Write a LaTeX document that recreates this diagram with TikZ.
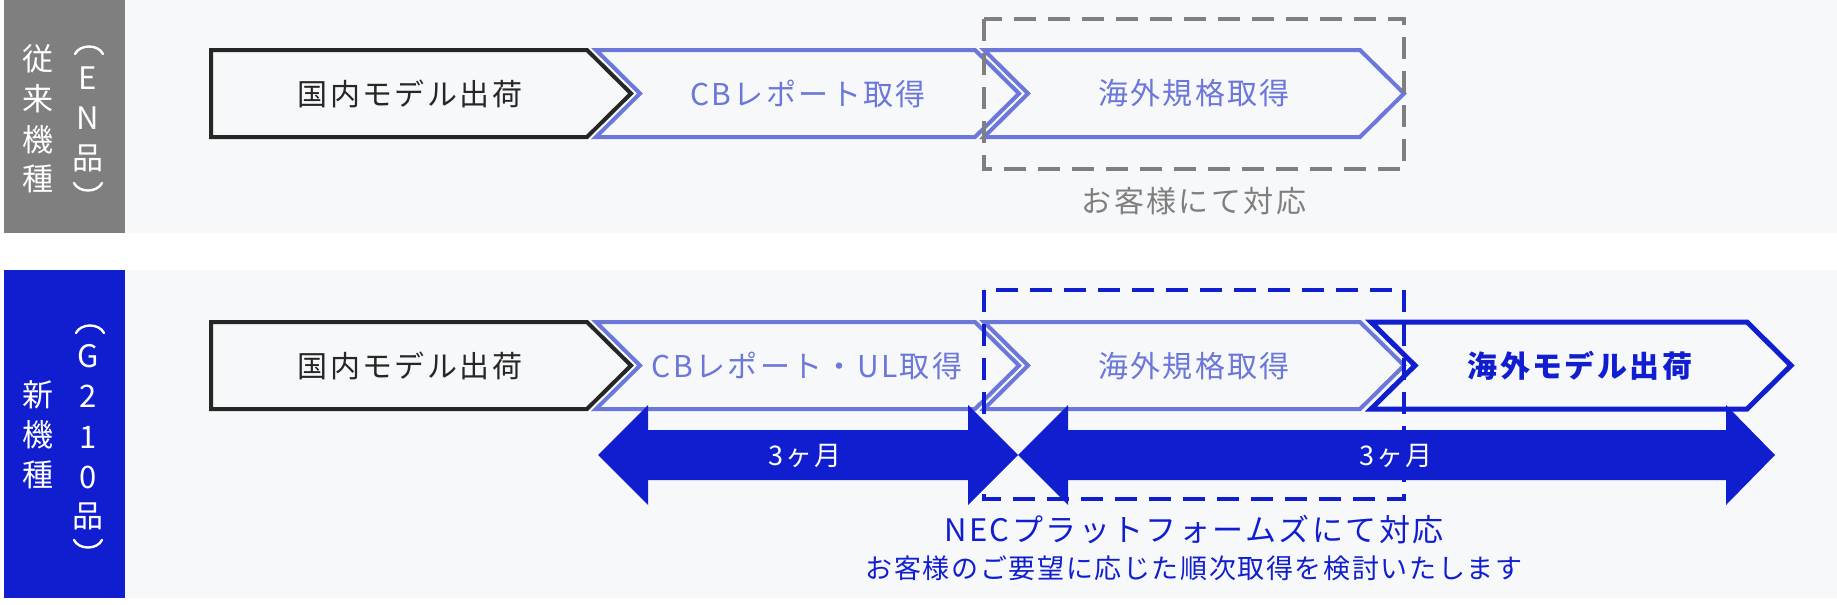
\documentclass[tikz,border=0pt]{standalone}
\usepackage{fontspec}
\setmainfont{Noto Sans CJK JP}
\newfontfamily\jpls[LetterSpace=8]{Noto Sans CJK JP}
\newfontfamily\jplss[LetterSpace=6]{Noto Sans CJK JP}
\definecolor{panelbg}{HTML}{F7F8FA}
\definecolor{lblue}{HTML}{6B77D9}
\definecolor{dblue}{HTML}{101ED0}
\definecolor{gbox}{HTML}{7F7F7F}
\definecolor{dk}{HTML}{262626}
\begin{document}
\begin{tikzpicture}[x=1pt,y=-1pt,
  lbl/.style={text=white,inner sep=0pt,font=\fontsize{31}{31}\selectfont},
  paren/.style={draw=white,line width=2.4pt,line cap=round},
  ctext/.style={inner sep=0pt,font=\jpls\fontsize{30}{30}\selectfont},
  chevk/.style={draw=dk,line width=4pt,line join=miter},
  chevl/.style={draw=lblue,line width=4pt,line join=miter},
  chevd/.style={draw=dblue,line width=5pt,line join=miter},
  dbox/.style={line width=4pt,dash pattern=on 22pt off 12pt}]
\useasboundingbox (0,0) rectangle (1837,605);
\fill[white] (0,0) rectangle (1837,605);
% panels
\fill[panelbg] (125,0) rectangle (1837,233);
\fill[panelbg] (125,270) rectangle (1837,598);
\fill[gbox] (4,0) rectangle (125,233);
\fill[dblue] (4,270) rectangle (125,598);
% side labels
\foreach \c/\y [count=\i] in {従/59,来/99,機/140,種/179}
  \node[lbl] (ta\i) at (38,\y) {\c};
\foreach \c/\y [count=\i] in {E/78,N/118,品/158}
  \node[lbl] (tb\i) at (88,\y) {\c};
\draw[paren] (75,54) .. controls (80,44) and (98,44) .. (103,54);
\draw[paren] (74,183) .. controls (79,193) and (97,193) .. (102,183);
\foreach \c/\y [count=\i] in {新/395,機/435,種/475}
  \node[lbl] (ba\i) at (38,\y) {\c};
\foreach \c/\y [count=\i] in {G/356,2/396,1/437,0/477,品/516}
  \node[lbl] (bb\i) at (88,\y) {\c};
\draw[paren] (76,333) .. controls (81,323) and (99,323) .. (104,333);
\draw[paren] (74,540) .. controls (79,550) and (97,550) .. (102,540);
% top row chevrons
\draw[chevk] (211,50) -- (587,50) -- (631,93.5) -- (587,137) -- (211,137) -- cycle;
\draw[chevl] (596,50) -- (975,50) -- (1019,93.5) -- (975,137) -- (596,137) -- (640,93.5) -- cycle;
\draw[chevl] (984,50) -- (1360,50) -- (1404,93.5) -- (1360,137) -- (984,137) -- (1028,93.5) -- cycle;
\node[ctext,text=dk] (t1) at (410,93.5) {国内モデル出荷};
\node[ctext,text=lblue] (t2) at (808,93.5) {CBレポート取得};
\node[ctext,text=lblue] (t3) at (1194,93.5) {海外規格取得};
\draw[dbox,draw=gbox] (984,19) rectangle (1404,169);
\node[ctext,text=gbox] (t4) at (1194,201) {お客様にて対応};
% bottom row chevrons
\draw[chevk] (211,322) -- (587,322) -- (631,365.5) -- (587,409) -- (211,409) -- cycle;
\draw[chevl] (596,322) -- (975,322) -- (1019,365.5) -- (975,409) -- (596,409) -- (640,365.5) -- cycle;
\draw[chevl] (984,322) -- (1360,322) -- (1404,365.5) -- (1360,409) -- (984,409) -- (1028,365.5) -- cycle;
\draw[chevd] (1371,322) -- (1747,322) -- (1791,365.5) -- (1747,409) -- (1371,409) -- (1415,365.5) -- cycle;
\node[ctext,text=dk] (b1) at (410,366) {国内モデル出荷};
\node[ctext,text=lblue] (b2) at (807,366) {CBレポート・UL取得};
\node[ctext,text=lblue] (b3) at (1194,366) {海外規格取得};
\node[ctext,text=dblue,font=\jpls\bfseries\fontsize{30}{30}\selectfont] (b4) at (1580,366) {海外モデル出荷};
% double arrows
\fill[dblue] (598,455) -- (648,405) -- (648,430) -- (968,430) -- (968,405) -- (1018,455)
  -- (968,505) -- (968,480) -- (648,480) -- (648,505) -- cycle;
\fill[dblue] (1018,455) -- (1068,405) -- (1068,430) -- (1726,430) -- (1726,405) -- (1775,455)
  -- (1726,505) -- (1726,480) -- (1068,480) -- (1068,505) -- cycle;
\node[ctext,text=white,font=\jplss\fontsize{27}{27}\selectfont] (m1) at (805,456) {3ヶ月};
\node[ctext,text=white,font=\jplss\fontsize{27}{27}\selectfont] (m2) at (1396,456) {3ヶ月};
\draw[dbox,draw=dblue] (984,290) rectangle (1404,499);
\node[inner sep=0pt,text=dblue,font=\jpls\fontsize{31}{31}\selectfont] (n1) at (1194,530) {NECプラットフォームズにて対応};
\node[inner sep=0pt,text=dblue,font=\jplss\fontsize{27}{27}\selectfont] (n2) at (1194,568) {お客様のご要望に応じた順次取得を検討いたします};
\end{tikzpicture}
\end{document}
